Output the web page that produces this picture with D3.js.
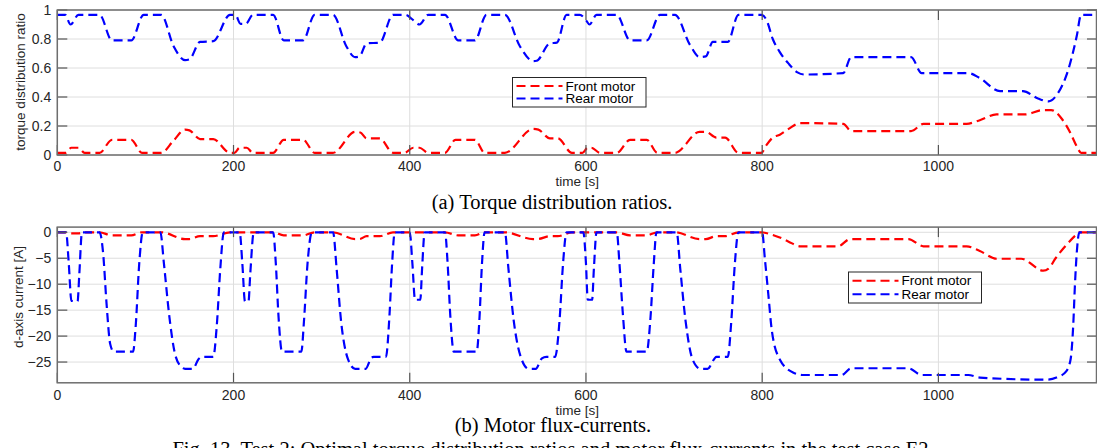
<html>
<head>
<title>Torque distribution and flux currents</title>
  <meta charset="utf-8">
  <script src="https://d3js.org/d3.v7.min.js"></script>
<style>
body { margin: 0; background: #fff; }
.tick-label { font-family: "Liberation Sans", Arial, sans-serif; font-size: 14px; fill: #262626; }
.axis-label { font-family: "Liberation Sans", Arial, sans-serif; font-size: 13.5px; fill: #262626; }
.caption { font-family: "Liberation Serif", "Times New Roman", serif; font-size: 20.5px; fill: #000; }
.legend-text { font-family: "Liberation Sans", Arial, sans-serif; font-size: 13.5px; fill: #000; }
</style>
</head>
<body>
<script>
// tick labels
var timeTicks = [0, 200, 400, 600, 800, 1000];
var ratioTicks = [0, 0.2, 0.4, 0.6, 0.8, 1];
var currentTicks = [0, -5, -10, -15, -20, -25];
var seriesNames = ["Front motor", "Rear motor"];

// (a) torque distribution ratios, [time s, ratio]
var frontRatio = [[0,0.015],[9,0.015],[16,0.05],[24,0.05],[31,0.015],[48,0.015],[62,0.105],[84,0.105],[96,0.015],[118,0.015],[132,0.1],[145,0.175],[150,0.17],[162,0.11],[177,0.11],[196,0.015],
  [201,0.015],[207,0.05],[215,0.05],[222,0.015],[245,0.015],[257,0.105],[279,0.105],[292,0.015],[313,0.015],[338,0.16],[344,0.155],[351,0.115],[366,0.115],[381,0.015],
  [394,0.015],[404,0.05],[411,0.05],[421,0.015],[440,0.015],[452,0.105],[474,0.105],[485,0.015],[508,0.015],[540,0.18],[546,0.175],[559,0.115],[568,0.115],[584,0.015],
  [596,0.015],[602,0.05],[606,0.05],[616,0.015],[635,0.015],[650,0.105],[669,0.105],[681,0.015],[701,0.015],[729,0.16],[736,0.16],[748,0.12],[758,0.12],[773,0.015],[799,0.015],
  [805,0.07],[812,0.12],[820,0.14],[830,0.18],[843,0.22],[892,0.215],[901,0.165],[969,0.165],[983,0.215],[1032,0.215],[1047,0.24],[1066,0.28],[1098,0.28],[1119,0.31],[1128,0.31],
  [1140,0.25],[1150,0.15],[1157,0.06],[1162,0.015],[1180,0.015]];

var rearRatio = [[0,0.967],[9,0.967],[15,0.9],[24,0.967],[48,0.967],[62,0.79],[84,0.79],[98,0.967],[118,0.967],[132,0.75],[145,0.655],[150,0.66],[162,0.78],[177,0.785],[196,0.967],
  [202,0.967],[208,0.905],[214,0.905],[222,0.967],[245,0.967],[257,0.79],[279,0.79],[292,0.967],[313,0.967],[328,0.75],[338,0.675],[343,0.68],[351,0.77],[366,0.775],[381,0.967],
  [395,0.967],[404,0.93],[411,0.9],[421,0.967],[440,0.967],[455,0.79],[474,0.79],[487,0.967],[508,0.967],[525,0.75],[540,0.648],[544,0.65],[559,0.77],[567,0.775],[578,0.967],
  [593,0.967],[600,0.93],[604,0.9],[612,0.967],[635,0.967],[650,0.79],[669,0.79],[684,0.967],[701,0.967],[718,0.76],[729,0.675],[736,0.68],[744,0.78],[761,0.78],[773,0.967],[799,0.967],
  [805,0.93],[812,0.8],[820,0.71],[830,0.63],[840,0.57],[848,0.555],[892,0.565],[901,0.675],[969,0.675],[981,0.565],[1034,0.565],[1047,0.53],[1070,0.44],[1096,0.44],[1113,0.39],[1125,0.37],
  [1135,0.42],[1148,0.6],[1157,0.82],[1162,0.967],[1180,0.967]];

// (b) d-axis currents, [time s, current A]
var frontCurrent = [[0,0],[10,0],[16,-0.2],[24,-0.2],[31,0],[48,0],[62,-0.6],[84,-0.6],[96,0],[118,0],[145,-1.3],[150,-1.3],[162,-0.75],[177,-0.75],[196,0],
  [245,0],[257,-0.6],[279,-0.6],[292,0],[313,0],[338,-1.3],[343,-1.3],[351,-0.75],[366,-0.75],[381,0],
  [440,0],[455,-0.6],[474,-0.6],[485,0],[508,0],[540,-1.3],[545,-1.3],[559,-0.75],[568,-0.75],[584,0],
  [635,0],[650,-0.6],[669,-0.6],[681,0],[701,0],[729,-1.3],[736,-1.3],[748,-0.75],[758,-0.75],[773,0],[799,0],
  [810,-0.4],[820,-1.0],[830,-1.8],[843,-2.7],[886,-2.7],[900,-1.3],[966,-1.3],[983,-2.7],[1032,-2.7],[1047,-3.6],[1066,-5.1],[1094,-5.1],[1119,-7.4],[1125,-7.0],
  [1133,-5],[1145,-2.5],[1155,-0.7],[1160,0],[1180,0]];

var rearCurrent = [[0,0],[10,0],[13,-6],[16,-13.2],[23,-13.3],[25,-8],[28,0],[48,0],[52,-4],[56,-14],[60,-21.5],[64,-23],[86,-23],[89,-18],[93,-6],[97,0],
  [117,0],[121,-6],[127,-16],[133,-23],[140,-25.8],[145,-26.3],[154,-26.3],[160,-24.5],[164,-24],[177,-24],[181,-18],[185,-7],[189,0],
  [207,0],[210,-6],[213,-13.3],[217,-13.3],[219,-8],[223,0],[245,0],[248,-6],[251,-16],[255,-23],[277,-23],[280,-17],[284,-6],[289,0],
  [313,0],[317,-7],[322,-17],[330,-24.5],[338,-26.3],[350,-26.3],[356,-24.3],[359,-24],[373,-24],[377,-16],[380,-6],[383,0],
  [400,0],[403,-6],[406,-13],[412,-13],[414,-7],[417,0],[440,0],[443,-6],[446,-16],[450,-23],[476,-23],[479,-17],[482,-6],[485,0],
  [508,0],[512,-7],[518,-17],[527,-24.5],[535,-26.3],[543,-26.3],[550,-24.3],[555,-24],[565,-24],[570,-17],[574,-6],[578,0],
  [597,0],[600,-6],[602,-13],[607,-13],[609,-7],[612,0],[635,0],[638,-6],[642,-16],[646,-23],[669,-23],[673,-17],[677,-6],[680,0],
  [703,0],[707,-7],[713,-17],[721,-24.5],[730,-26.3],[738,-26.3],[746,-24.3],[748,-24],[761,-24],[765,-17],[769,-6],[773,0],[800,0],
  [803,-5],[807,-12],[811,-19],[820,-24.5],[835,-27],[847,-27.5],[890,-27.5],[901,-26.2],[966,-26.2],[981,-27.5],[1034,-27.5],[1047,-28],[1123,-28.4],
  [1134,-28],[1145,-26.8],[1150,-24.5],[1153,-18],[1155,-10],[1157,-4],[1160,0],[1180,0]];

var colors = ["#ff0000", "#0000ff"];

var svg = d3.select("body").append("svg")
    .attr("width", 1097)
    .attr("height", 448);

svg.append("rect").attr("width", 1097).attr("height", 448).attr("fill", "#fff");

var x = d3.scaleLinear().domain([0, 1180]).range([57.3, 1097]);
var yTop = d3.scaleLinear().domain([0, 1]).range([155, 10]);
var yBot = d3.scaleLinear().domain([-29, 1]).range([382.8, 227.1]);

function fmt(v) {
  return String(v).replace("-", "\u2212");
}

// draws one panel: grid, lines, box with inner ticks, labels, legend
function panel(id, y, yTicks, series, ylabel, labelY, tickY, timeY, legend) {
  var x0 = x.range()[0], x1 = x.range()[1];
  var yb = y.range()[0], yt = y.range()[1];
  var g = svg.append("g");

  g.append("clipPath").attr("id", id)
    .append("rect").attr("x", x0).attr("y", yt).attr("width", x1 - x0).attr("height", yb - yt);

  // grid
  g.selectAll(".vg").data(timeTicks).enter().append("line")
      .attr("x1", function(d) { return x(d); }).attr("x2", function(d) { return x(d); })
      .attr("y1", yt).attr("y2", yb)
      .attr("stroke", "#dedede").attr("stroke-width", 1);
  g.selectAll(".hg").data(yTicks).enter().append("line")
      .attr("x1", x0).attr("x2", x1)
      .attr("y1", function(d) { return y(d); }).attr("y2", function(d) { return y(d); })
      .attr("stroke", "#dedede").attr("stroke-width", 1);

  // series
  var line = d3.line()
      .x(function(d) { return x(d[0]); })
      .y(function(d) { return y(d[1]); })
      .curve(d3.curveMonotoneX);
  series.forEach(function(s, i) {
    g.append("path")
        .attr("d", line(s))
        .attr("clip-path", "url(#" + id + ")")
        .attr("fill", "none")
        .attr("stroke", colors[i])
        .attr("stroke-width", 2.2)
        .attr("stroke-dasharray", "9,5");
  });

  // inner ticks on all four sides
  var tl = 10;
  timeTicks.forEach(function(d) {
    g.append("line").attr("x1", x(d)).attr("x2", x(d)).attr("y1", yb).attr("y2", yb - tl)
        .attr("stroke", "#555").attr("stroke-width", 1.2);
    g.append("line").attr("x1", x(d)).attr("x2", x(d)).attr("y1", yt).attr("y2", yt + tl)
        .attr("stroke", "#555").attr("stroke-width", 1.2);
  });
  yTicks.forEach(function(d) {
    g.append("line").attr("x1", x0).attr("x2", x0 + tl).attr("y1", y(d)).attr("y2", y(d))
        .attr("stroke", "#555").attr("stroke-width", 1.2);
    g.append("line").attr("x1", x1).attr("x2", x1 - tl).attr("y1", y(d)).attr("y2", y(d))
        .attr("stroke", "#555").attr("stroke-width", 1.2);
  });

  // box
  g.append("rect")
      .attr("x", x0).attr("y", yt).attr("width", x1 - x0 - 0.5).attr("height", yb - yt)
      .attr("fill", "none").attr("stroke", "#6e6e6e").attr("stroke-width", 1.5);

  // tick labels
  g.selectAll(".xl").data(timeTicks).enter().append("text")
      .attr("class", "tick-label")
      .attr("x", function(d) { return x(d); })
      .attr("y", tickY)
      .attr("dy", "0.35em")
      .style("text-anchor", "middle")
      .text(function(d) { return d; });
  g.selectAll(".yl").data(yTicks).enter().append("text")
      .attr("class", "tick-label")
      .attr("x", x0 - 6)
      .attr("y", function(d) { return y(d); })
      .attr("dy", "0.35em")
      .style("text-anchor", "end")
      .text(function(d) { return fmt(d); });

  // axis labels
  g.append("text")
      .attr("class", "axis-label")
      .attr("x", (x0 + x1) / 2)
      .attr("y", timeY)
      .attr("dy", "0.35em")
      .style("text-anchor", "middle")
      .text("time [s]");
  g.append("text")
      .attr("class", "axis-label")
      .attr("transform", "translate(" + legend.ylx + "," + labelY + ") rotate(-90)")
      .attr("dy", "0.35em")
      .style("text-anchor", "middle")
      .text(ylabel);

  // legend
  var lg = g.append("g").attr("transform", "translate(" + legend.x + "," + legend.y + ")");
  lg.append("rect")
      .attr("width", legend.w).attr("height", legend.h)
      .attr("fill", "#fff").attr("stroke", "#262626").attr("stroke-width", 1);
  seriesNames.forEach(function(name, i) {
    var ly = legend.h / 2 + (i - 0.5) * legend.gap;
    lg.append("line")
        .attr("x1", 4).attr("x2", 50).attr("y1", ly).attr("y2", ly)
        .attr("stroke", colors[i]).attr("stroke-width", 2.2)
        .attr("stroke-dasharray", "9,5");
    lg.append("text")
        .attr("class", "legend-text")
        .attr("x", 53).attr("y", ly)
        .attr("dy", "0.35em")
        .text(name);
  });
}

panel("clipA", yTop, ratioTicks, [frontRatio, rearRatio], "torque distribution ratio", 82, 166.5, 181.5,
      {x: 512.5, y: 77.5, w: 133.5, h: 29.5, ylx: 20, gap: 12.5});
panel("clipB", yBot, currentTicks, [frontCurrent, rearCurrent], "d-axis current [A]", 297, 395, 410,
      {x: 848.5, y: 272, w: 133, h: 31, ylx: 18, gap: 13.5});

// captions
svg.append("text")
    .attr("class", "caption")
    .attr("x", 552)
    .attr("y", 209)
    .style("text-anchor", "middle")
    .text("(a) Torque distribution ratios.");
svg.append("text")
    .attr("class", "caption")
    .attr("x", 553)
    .attr("y", 432)
    .style("text-anchor", "middle")
    .text("(b) Motor flux-currents.");
svg.append("text")
    .attr("class", "caption")
    .attr("x", 553)
    .attr("y", 456)
    .style("text-anchor", "middle")
    .text("Fig. 13. Test 2: Optimal torque distribution ratios and motor flux-currents in the test case E2.");
</script>
</body>
</html>
